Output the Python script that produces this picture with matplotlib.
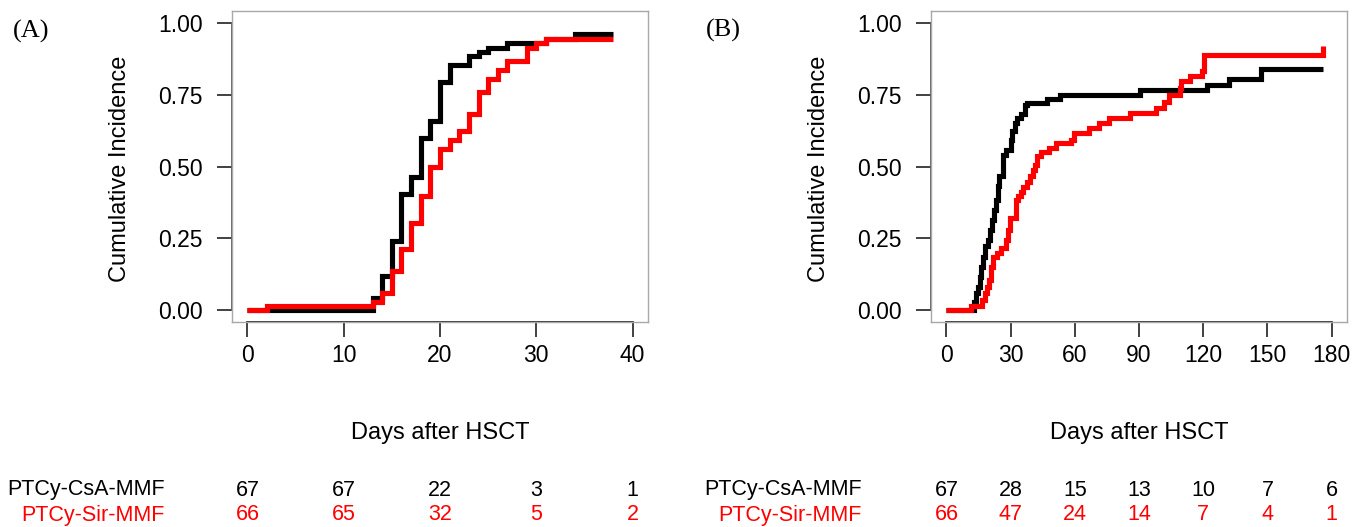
import matplotlib
matplotlib.use("Agg")
import matplotlib.pyplot as plt
from matplotlib.transforms import blended_transform_factory

plt.rcParams['font.family'] = ['Liberation Sans', 'DejaVu Sans']

# ---------------- data ----------------
groups = ["PTCy-CsA-MMF", "PTCy-Sir-MMF"]
colors = ["#000000", "#FF0000"]

# Panel A
a_csa_t = [0, 13, 14, 15, 16, 17, 18, 19, 20, 21, 23, 24, 25, 27, 31, 34, 38]
a_csa_v = [0, 0.045, 0.119, 0.243, 0.404, 0.463, 0.599, 0.657, 0.794, 0.854,
           0.884, 0.899, 0.913, 0.929, 0.944, 0.959, 0.959]
a_sir_t = [0, 2, 13, 14, 15, 16, 17, 18, 19, 20, 21, 22, 23, 24, 25, 26, 27,
           29, 30, 31, 38]
a_sir_v = [0, 0.015, 0.030, 0.059, 0.137, 0.213, 0.305, 0.396, 0.50, 0.562,
           0.593, 0.622, 0.683, 0.758, 0.805, 0.835, 0.866, 0.913, 0.928,
           0.944, 0.944]
a_xticks = [0, 10, 20, 30, 40]
a_risk_csa = [67, 67, 22, 3, 1]
a_risk_sir = [66, 65, 32, 5, 2]

# Panel B
b_csa_t = [0, 12.9, 13.8, 14.9, 15.7, 16.3, 17.1, 17.9, 19.4, 20.4, 21.3,
           22.2, 23.2, 24.1, 24.7, 26.6, 27.7, 30.0, 30.8, 31.9, 33.1, 35.0,
           36.5, 37.5, 47.1, 53.0, 90.3, 122.0, 132.1, 147.0, 176.1]
b_csa_v = [0, 0.030, 0.059, 0.082, 0.117, 0.152, 0.187, 0.224, 0.245, 0.280,
           0.315, 0.350, 0.384, 0.431, 0.466, 0.541, 0.559, 0.593, 0.623,
           0.652, 0.669, 0.681, 0.712, 0.721, 0.733, 0.747, 0.765, 0.783,
           0.803, 0.837, 0.837]
b_sir_t = [0, 11.3, 16.8, 17.9, 19.1, 20.1, 21.0, 21.9, 23.8, 25.6, 27.7,
           28.8, 29.7, 32.3, 33.4, 34.7, 35.9, 37.8, 39.0, 40.4, 41.2, 42.4,
           44.0, 47.9, 51.0, 58.0, 59.8, 66.5, 71.2, 75.9, 86.0, 98.1, 101.5,
           103.8, 109.3, 109.7, 113.9, 119.4, 120.5, 175.8, 176.0]
b_sir_v = [0, 0.015, 0.036, 0.059, 0.082, 0.106, 0.152, 0.185, 0.199, 0.216,
           0.245, 0.280, 0.321, 0.384, 0.396, 0.413, 0.429, 0.445, 0.466,
           0.489, 0.506, 0.535, 0.549, 0.564, 0.582, 0.593, 0.617, 0.634,
           0.652, 0.669, 0.686, 0.704, 0.724, 0.750, 0.774, 0.797, 0.814,
           0.832, 0.886, 0.919, 0.919]
b_xticks = [0, 30, 60, 90, 120, 150, 180]
b_risk_csa = [67, 28, 15, 13, 10, 7, 6]
b_risk_sir = [66, 47, 24, 14, 7, 4, 1]

yticks = [0.0, 0.25, 0.5, 0.75, 1.0]
ytick_labels = ["0.00", "0.25", "0.50", "0.75", "1.00"]

# ---------------- figure ----------------
W, H = 1364, 527
fig = plt.figure(figsize=(W / 100, H / 100), dpi=100)

panels = [
    dict(rect=[232 / W, 1 - 322 / H, 416 / W, 311 / H], label="(A)", lab_xy=(31, 31),
         series=[(a_csa_t, a_csa_v), (a_sir_t, a_sir_v)], xticks=a_xticks,
         risk=[a_risk_csa, a_risk_sir], risk_lab_x=165),
    dict(rect=[931 / W, 1 - 322 / H, 416 / W, 311 / H], label="(B)", lab_xy=(723, 30),
         series=[(b_csa_t, b_csa_v), (b_sir_t, b_sir_v)], xticks=b_xticks,
         risk=[b_risk_csa, b_risk_sir], risk_lab_x=862),
]

row_y = [1 - 490 / H, 1 - 515 / H]

for p in panels:
    ax = fig.add_axes(p["rect"])
    xt = p["xticks"]
    span = xt[-1] - xt[0]
    ax.set_xlim(xt[0] - 0.04 * span, xt[-1] + 0.04 * span)
    ax.set_ylim(-0.04, 1.04)
    for (t, v), c in zip(p["series"], colors):
        ax.step(t, v, where="post", color=c, lw=3.7, solid_capstyle="butt",
                solid_joinstyle="miter")
    for s in ax.spines.values():
        s.set_color("#a8a8a8")
        s.set_linewidth(1.0)
    # axis lines (R style)
    ax.plot([xt[0], xt[-1]], [0, 0], transform=ax.get_xaxis_transform(),
            color="#222222", lw=1.3, clip_on=False)
    ax.plot([0, 0], [0, 1], transform=ax.get_yaxis_transform(),
            color="#555555", lw=1.3, clip_on=False)
    ax.set_xticks(xt)
    ax.set_xticklabels([str(x) for x in xt])
    ax.set_yticks(yticks)
    ax.set_yticklabels(ytick_labels)
    ax.tick_params(axis="x", length=11, width=1.3, color="#333333", pad=5,
                   labelsize=16.5)
    ax.tick_params(axis="y", length=11, width=1.3, color="#333333", pad=10,
                   labelsize=16.5)
    ax.set_xlabel("Days after HSCT", fontsize=17)
    ax.xaxis.set_label_coords(0.5, -0.322)
    ax.set_ylabel("Cumulative Incidence", fontsize=17)
    ax.yaxis.set_label_coords(-0.242, 0.492)

    fig.text(p["lab_xy"][0] / W, 1 - p["lab_xy"][1] / H, p["label"],
             family="Liberation Serif", fontsize=19, ha="center", va="center")

    tr = blended_transform_factory(ax.transData, fig.transFigure)
    for i, (g, c, counts) in enumerate(zip(groups, colors, p["risk"])):
        fig.text(p["risk_lab_x"] / W, row_y[i], g, color=c, fontsize=15.5,
                 ha="right", va="center")
        for x, n in zip(xt, counts):
            ax.text(x, row_y[i], str(n), transform=tr, color=c, fontsize=15.5,
                    ha="center", va="center", clip_on=False)

fig.savefig("out.png", dpi=100)
